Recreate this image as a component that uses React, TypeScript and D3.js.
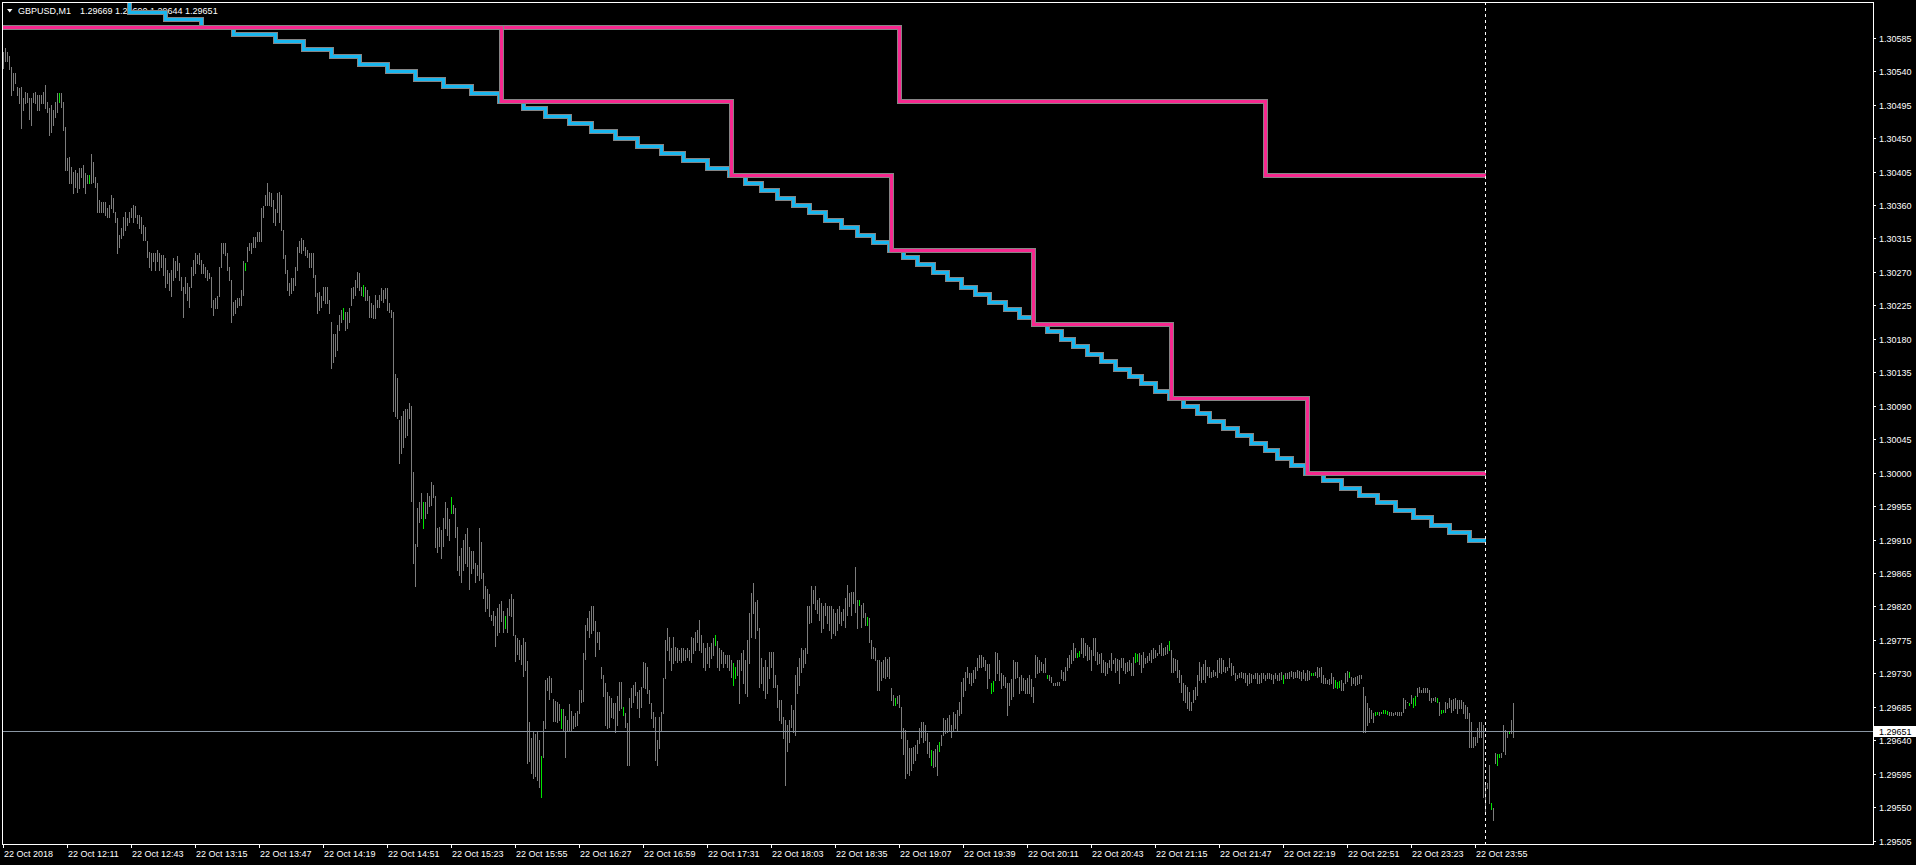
import * as d3 from "d3";
import { useEffect, useRef } from "react";

const W = 1916;
const H = 865;

// prices are stored in points (0.00001) above this base
const PRICE_BASE = 1.29;
const POINT = 0.00001;

// M1 bars [high, low, green?], one per minute, first bar 11:39
const bars1139 = [
  [1566,1544],[1571,1553],[1566,1553],[1561,1543],[1546,1508],[1538,1515],[1538,1524],[1519,1508],[1518,1497],[1519,1464],
  [1504,1488],[1512,1497],[1511,1499],[1504,1475],[1504,1468],[1511,1499],[1512,1497],[1508,1488],[1508,1488],[1508,1497],
  [1512,1497],[1522,1491],[1499,1485],[1491,1454],[1495,1458],[1488,1468],[1499,1479],[1511,1485],[1511,1499,1],[1511,1492],
  [1499,1461],[1465,1407],[1423,1407],[1425,1390],[1411,1390],[1405,1376],[1407,1384],[1403,1378],[1410,1383],[1410,1397],
  [1414,1384],[1403,1376],[1401,1390],[1401,1390,1],[1428,1390],[1418,1391],[1398,1384],[1390,1351],[1367,1351],[1364,1351],
  [1364,1351],[1364,1347],[1356,1344],[1360,1344],[1374,1356],[1370,1351],[1351,1337],[1343,1296],[1320,1304],[1329,1316],
  [1344,1320],[1350,1327],[1343,1333],[1351,1337],[1356,1344],[1360,1337],[1358,1344],[1347,1336],[1347,1329],[1344,1323],
  [1333,1313],[1331,1313],[1311,1290],[1297,1277],[1296,1273],[1296,1284],[1296,1273],[1300,1284],[1296,1273],[1293,1277],
  [1293,1266],[1289,1250],[1273,1255],[1269,1246],[1273,1237],[1289,1259],[1284,1263],[1292,1273],[1282,1259],[1263,1246],
  [1250,1210],[1263,1242],[1255,1232],[1250,1223],[1277,1250],[1286,1266],[1296,1269],[1293,1282],[1296,1280],[1286,1269],
  [1280,1269],[1277,1263],[1273,1259],[1269,1262],[1263,1223],[1232,1212],[1235,1222],[1237,1222],[1277,1237],[1309,1276],
  [1309,1296],[1309,1293],[1296,1273],[1276,1259],[1259,1203],[1230,1212],[1232,1215],[1235,1223],[1235,1226],[1246,1226],
  [1284,1239],[1282,1273,1],[1304,1284],[1309,1300],[1309,1296],[1317,1304],[1317,1304],[1324,1311],[1324,1311],[1356,1311],
  [1358,1344],[1374,1360],[1390,1360],[1378,1360],[1376,1358],[1367,1337],[1354,1333],[1376,1350],[1378,1337],[1374,1327],
  [1327,1289],[1293,1269],[1273,1246],[1255,1239],[1262,1242],[1262,1246],[1277,1253],[1304,1273],[1311,1297],[1316,1296],
  [1313,1300],[1304,1293],[1300,1290],[1296,1277],[1296,1277],[1296,1263],[1266,1237],[1242,1215],[1243,1219],[1237,1223],
  [1250,1232],[1250,1228],[1250,1228],[1232,1215],[1203,1141],[1187,1149],[1187,1157],[1199,1165],[1212,1192],[1219,1203],
  [1222,1206,1],[1216,1192],[1216,1195],[1222,1203],[1249,1226],[1250,1235],[1259,1239],[1270,1250],[1269,1246],[1250,1239],
  [1253,1237,1],[1250,1232],[1246,1232],[1237,1210],[1228,1210],[1226,1208],[1239,1208],[1232,1223],[1239,1223],[1249,1232],
  [1246,1230],[1249,1235],[1249,1219],[1228,1216],[1219,1210],[1216,1083],
];

const bars1455 = [
  [1133,1076],[1127,1073],[1071,1013],[1076,1027],[1083,1034],[1085,1048],[1085,1050],[1094,1073],[1089,962],[1001,879],
  [904,847],[953,902],[960,934],[972,939],[960,925,1],[960,939],[972,946],[969,955],[988,957],[983,967],
  [969,900],[925,893],[927,902],[923,885],[939,902],[960,925],[953,916],[937,909],[967,946,1],[957,946],
  [953,914],[927,869],[888,863],[898,853],[909,869],[918,879],[925,874],[900,844],[895,865],[895,872],
  [879,853],[876,863],[925,856],[907,858],[865,832],[847,814],[844,818],[837,807],[809,802],[814,795],
  [807,767],[818,781],[824,786],[828,800],[814,786],[807,791,1],[818,786],[830,809],[837,807],[830,782],
  [782,747],[777,756],[775,749],[768,742],[777,726],[772,735],[747,610],[664,612],[643,596],[652,590],
  [649,592],[652,587],[641,577],[619,564,1],[666,617],[721,657],[724,708],[726,696],[724,705],[696,666],
  [693,666],[691,664],[689,668],[682,657,1],[682,654],[673,617],[668,654],[689,654],[680,654],[673,657],
  [677,659],[680,661],[708,677],[708,691],[758,693],[795,749],[805,789],[814,779],[821,784],[821,789],
  [800,754],[786,772],[786,763],
];

const bars1638 = [
  [738,724],[728,699],[717,661],[705,657],[699,658],[697,672],[690,670],[690,651],[699,661],[719,681],
  [719,684],[685,674,1],[677,658],[663,607],[697,607],[711,685],[715,692],[719,701],[705,684],[708,672],
  [712,685],[746,712],[744,711],[739,704],[708,690],[690,670],[678,658],[672,614],[641,607],[672,630],
  [678,654],[724,677],[775,724],[791,762],[779,748],[764,735],[779,744],[766,748],[764,746],[762,748],
  [764,746],[764,748],[762,748],[764,752],[762,748],[779,746],[778,758],[786,762],[789,772],[802,762],
  [782,759],[771,738],[764,735],[771,744],[766,739],[771,751],[778,755],[781,768,1],[773,739],[764,735],
  [762,744],[759,739],[755,744],[755,739],[755,735],[748,725],[744,715,1],[739,724,1],[748,728],[748,690],
  [758,735],[762,717],[748,704],[775,699],[811,744],[838,779],[852,811],[826,778],[829,789],[791,712],
  [751,717],[739,708],[748,697],[739,704],[759,724],[759,738],[759,712],[728,712],[715,685],[694,668],
  [694,663],[672,643],[668,580],[661,625],[668,638],[688,658],[681,651],[728,647],[739,704],[751,715],
  [764,732],[762,739],[764,744],[820,758],[820,798],[847,799],[842,825],[847,816],[829,811],[832,802],
  [825,786],[820,791],[825,809],[820,798],[820,789],[820,778],[816,785],[811,782],[816,789],[820,798],
  [813,795],[816,802],[832,793],[849,809],[838,820],[840,809],[840,825],[873,813],[829,791],[829,822,1],
  [822,793],[825,806],[811,795],[806,795,1],[805,772],[775,751],[766,751],[764,748],[748,708],
];

const bars1857 = [
  [748,708],[746,721],[748,725],[752,724],[750,727],[752,724],[711,694],[701,688],[697,688,1],[699,690],
  [701,685],[685,643],[657,621],[654,590],[640,596],[630,594],[630,600],[631,610],[634,614],[641,623],
  [657,637],[664,645],[665,638],[660,640],[650,623],[638,617],[627,607,1],[625,604],[628,606],[634,594],
  [638,625,1],[647,634],[670,647],[668,650],[670,651],[674,654],[661,645],[678,654],[676,657],[681,654],
  [691,674],[719,677],[724,700],[732,708],[739,725],[731,717],[731,715],[734,718],[739,724],[751,735],
  [755,738],[755,739],[752,740],[748,735],[742,711],[742,724],[717,704,1],[720,706,1],[759,721],[758,731],
  [748,721],[731,711],[728,714],[725,712],[717,674],[717,688],[722,695],[748,699],[746,724],[746,725],
  [725,704],[728,708],[724,708],[721,704],[724,704],[728,704],[722,700],[712,692],[755,725],[752,731],
  [748,732],[746,734],[742,732],[751,732],[728,724,1],[728,721],[725,719],[717,715],[717,715],[719,715],
  [718,714],[735,724],[732,721],[738,721],[751,735],[755,738],[762,744],[771,748],[764,752],[758,752,1],
  [760,753,1],[778,758],[778,752],[771,755],[768,748],[765,750],[762,735],[778,755],[778,748],[759,742],
  [756,744],[758,732],[748,732],[746,728],[744,731],[748,738],[758,735],[748,744],[751,732],[749,735],
  [748,717],[751,739],[751,735],[744,731],[746,733],[748,735],[744,728],[752,728],[758,746,1],[756,747,1],
  [758,742],[755,732],[759,738],[751,744],[753,745],[758,748],[762,746],[764,751],[762,752],[758,755],
  [768,758],[771,755],[764,755],[766,756],[768,758],[774,762,1],
];

const bars2123 = [
  [762,732],[751,732],[749,735],[748,725],[735,719],[728,705],[717,694],[715,692],[712,684],[705,681],
  [692,681],[708,691],[712,695],[728,701],[746,721],[738,719],[742,722],[748,719],[739,728],[739,725],
  [732,725],[734,726],[732,728],[748,725],[751,732],[751,731],[748,733],[738,732],[739,735],[751,738],
  [744,728],[740,729],[731,721],[728,724],[731,725],[732,725],[730,724],[731,719],[728,715],[731,717],
  [729,718],[728,724],[731,724],[731,717],[728,717],[730,719],[731,724],[728,721],[731,724],[731,724],
  [729,722],[728,717],[731,724],[728,721],[731,721],[732,723],[728,717,1],[731,724],[731,724],[732,724],
  [733,726],[732,724],[732,725],[735,725],[733,724],[732,721],[735,724],[731,721],[735,721],[733,723],
  [731,728,1],[731,728,1],[732,728],[739,725],[737,727],[738,719],[728,717],[724,717],[721,717],[722,716],
  [731,717],[725,711],[721,712,1],[719,711,1],[720,712,1],[721,708],[717,708],[731,717],[733,720],[732,725,1],
  [725,715],[724,717],[725,715],[727,716],[728,717],[728,724],[712,651],[699,651],[690,660],[684,664],
  [681,670],[677,664],[678,674,1],[678,675,1],[678,674],[678,677],[681,677,1],[681,677,1],[680,676,1],[678,674],
  [678,674],[677,674],[678,675],[678,674],[678,674],[678,674],[697,678],[694,684],[692,691],[690,688,1],
  [701,690],[697,685,1],[699,687,1],[711,699],[712,705],[708,705],[711,705],[710,705],[711,705],[708,694],
  [697,692],[697,694],[698,693],[697,692,1],[692,674],[681,677,1],[681,678,1],[692,678],[690,684],[697,685],
  [694,678],[696,681],[697,684],[694,677],[694,684],[694,684],[692,677],[688,670],[685,670],
];

const bars2352 = [
  [677,631],[665,631],[645,631],[645,634],[657,638],[665,645],[664,645],[661,564],[583,544],[583,576],
  [607,556],[556,547,1],[549,533],[623,610],[621,607,1],[621,617,1],[623,617],[661,625],[654,621],[651,645],
  [651,650,1],[668,650],[690,644],
];

// trailing line: [bar index where the level starts, price]
const cyanSteps: [number, number][] = [
  [0,1.30640],[63,1.30620],[81,1.30610],[99,1.30600],[115,1.30590],[136,1.30580],[150,1.30570],[164,1.30560],
  [178,1.30550],[192,1.30540],[206,1.30530],[220,1.30520],[234,1.30510],[248,1.30500],[260,1.30490],[271,1.30480],
  [283,1.30470],[294,1.30460],[306,1.30450],[317,1.30440],[329,1.30430],[340,1.30420],[352,1.30410],[363,1.30400],
  [371,1.30390],[379,1.30380],[387,1.30370],[395,1.30360],[403,1.30350],[411,1.30340],[419,1.30330],[427,1.30320],
  [435,1.30310],[443,1.30300],[450,1.30290],[457,1.30280],[465,1.30270],[472,1.30260],[479,1.30250],[486,1.30240],
  [493,1.30230],[501,1.30220],[508,1.30210],[515,1.30200],[522,1.30190],[529,1.30180],[535,1.30170],[542,1.30160],
  [549,1.30150],[556,1.30140],[563,1.30130],[569,1.30120],[576,1.30110],[583,1.30100],[590,1.30090],[597,1.30080],
  [603,1.30070],[610,1.30060],[617,1.30050],[624,1.30040],[631,1.30030],[637,1.30020],[644,1.30010],[651,1.30000],
  [660,1.29990],[669,1.29980],[678,1.29970],[687,1.29960],[696,1.29950],[705,1.29940],[714,1.29930],[723,1.29920],
  [733,1.29910],
];

// round-number levels
const pinkFastSteps: [number, number][] = [
  [0,1.306],[249,1.305],[364,1.304],[444,1.303],[515,1.302],[584,1.301],[652,1.300],
];
const pinkSlowSteps: [number, number][] = [
  [0,1.306],[448,1.305],[631,1.304],
];
const LINE_END = 741; // day separator (00:00)

const priceTicks = [
  1.30585, 1.30540, 1.30495, 1.30450, 1.30405, 1.30360, 1.30315, 1.30270, 1.30225,
  1.30180, 1.30135, 1.30090, 1.30045, 1.30000, 1.29955, 1.29910, 1.29865, 1.29820,
  1.29775, 1.29730, 1.29685, 1.29640, 1.29595, 1.29550, 1.29505,
];

const timeLabels = [
  "22 Oct 2018", "22 Oct 12:11", "22 Oct 12:43", "22 Oct 13:15", "22 Oct 13:47", "22 Oct 14:19",
  "22 Oct 14:51", "22 Oct 15:23", "22 Oct 15:55", "22 Oct 16:27", "22 Oct 16:59", "22 Oct 17:31",
  "22 Oct 18:03", "22 Oct 18:35", "22 Oct 19:07", "22 Oct 19:39", "22 Oct 20:11", "22 Oct 20:43",
  "22 Oct 21:15", "22 Oct 21:47", "22 Oct 22:19", "22 Oct 22:51", "22 Oct 23:23", "22 Oct 23:55",
];
const BARS_PER_LABEL = 32;

const lastQuote = { symbol: "GBPUSD,M1", open: "1.29669", high: "1.29690", low: "1.29644", close: "1.29651" };
const BID = 1.29651;

const FONT = "'Liberation Sans', Arial, sans-serif";

export default function App() {
  const svgRef = useRef<SVGSVGElement | null>(null);

  useEffect(() => {
    const svg = d3.select(svgRef.current).html("");

    const left = 2, right = 1873, top = 2, bottom = 844;

    const x = d3.scaleLinear().domain([0, 1]).range([3, 5]);
    const y = d3.scaleLinear().domain([1.29505, 1.30585]).range([840.7, 37.7]);

    const bars = [...bars1139, ...bars1455, ...bars1638, ...bars1857, ...bars2123, ...bars2352].map((b, i) => ({
      i,
      high: PRICE_BASE + b[0] * POINT,
      low: PRICE_BASE + b[1] * POINT,
      green: b[2] === 1,
    }));

    svg.append("rect").attr("width", W).attr("height", H).attr("fill", "#000");

    svg.append("defs").append("clipPath").attr("id", "plot")
      .append("rect").attr("x", left).attr("y", top).attr("width", right - left).attr("height", bottom - top);

    // header
    svg.append("path").attr("d", "M7,9 L12.5,9 L9.75,12.5 Z").attr("fill", "#fff");
    svg.append("text").attr("x", 18).attr("y", 14).attr("fill", "#fff")
      .style("font", `9px ${FONT}`).text(lastQuote.symbol);
    svg.append("text").attr("x", 80).attr("y", 14).attr("fill", "#fff")
      .style("font", `9px ${FONT}`)
      .text(`${lastQuote.open} ${lastQuote.high} ${lastQuote.low} ${lastQuote.close}`);

    const plot = svg.append("g").attr("clip-path", "url(#plot)");

    plot.selectAll("rect.bar").data(bars).join("rect")
      .attr("class", "bar")
      .attr("x", d => x(d.i))
      .attr("y", d => Math.round(y(d.high)))
      .attr("width", 1)
      .attr("height", d => Math.max(1, Math.round(y(d.low)) - Math.round(y(d.high)) + 1))
      .attr("fill", d => (d.green ? "#00e600" : "#7c7c7c"))
      .attr("shape-rendering", "crispEdges");

    // bid line
    const bidY = Math.round(y(BID)) - 0.5;
    plot.append("line").attr("x1", left).attr("x2", right).attr("y1", bidY).attr("y2", bidY)
      .attr("stroke", "#8a96a3").attr("stroke-width", 1).attr("shape-rendering", "crispEdges");

    const stepPath = (steps: [number, number][], end: number) => {
      let p = "";
      steps.forEach(([i, v], k) => {
        const py = Math.round(y(v)) + 0.5;
        p += k === 0 ? `M${left},${py}` : `V${py}`;
        const nextI = k < steps.length - 1 ? steps[k + 1][0] : end;
        p += `H${x(nextI) + 0.5}`;
      });
      return p;
    };

    const drawLine = (steps: [number, number][], color: string) => {
      const d = stepPath(steps, LINE_END);
      plot.append("path").attr("d", d).attr("fill", "none").attr("stroke", "#858585")
        .attr("stroke-width", 5).attr("stroke-linejoin", "miter").attr("shape-rendering", "crispEdges");
      plot.append("path").attr("d", d).attr("fill", "none").attr("stroke", color)
        .attr("stroke-width", 3).attr("stroke-linejoin", "miter").attr("shape-rendering", "crispEdges");
    };
    drawLine(cyanSteps, "#1ab6ee");
    drawLine(pinkSlowSteps, "#f7288f");
    drawLine(pinkFastSteps, "#f7288f");

    // day separator
    const sepX = x(LINE_END) + 0.5;
    plot.append("line").attr("x1", sepX).attr("x2", sepX).attr("y1", top).attr("y2", bottom)
      .attr("stroke", "#fff").attr("stroke-dasharray", "3,3").attr("shape-rendering", "crispEdges");

    // frame
    svg.append("rect").attr("x", left + 0.5).attr("y", top + 0.5)
      .attr("width", right - left).attr("height", bottom - top)
      .attr("fill", "none").attr("stroke", "#fff").attr("shape-rendering", "crispEdges");

    // price axis
    const yAxis = svg.append("g");
    priceTicks.forEach(p => {
      const py = Math.round(y(p)) + 0.5;
      yAxis.append("line").attr("x1", right).attr("x2", right + 3).attr("y1", py).attr("y2", py)
        .attr("stroke", "#fff").attr("shape-rendering", "crispEdges");
      yAxis.append("text").attr("x", 1879).attr("y", py + 3.5).attr("fill", "#fff")
        .style("font", `9px ${FONT}`).text(p.toFixed(5));
    });
    const bidBoxY = Math.round(y(BID)) - 6;
    yAxis.append("rect").attr("x", 1874).attr("y", bidBoxY).attr("width", 42).attr("height", 11)
      .attr("fill", "#fff");
    yAxis.append("text").attr("x", 1879).attr("y", bidBoxY + 9).attr("fill", "#000")
      .style("font", `9px ${FONT}`).text(BID.toFixed(5));

    // time axis
    const xAxis = svg.append("g");
    timeLabels.forEach((t, k) => {
      const px = x(k * BARS_PER_LABEL) + 0.5;
      xAxis.append("line").attr("x1", px).attr("x2", px).attr("y1", bottom).attr("y2", bottom + 4)
        .attr("stroke", "#fff").attr("shape-rendering", "crispEdges");
      xAxis.append("text").attr("x", px + 0.5).attr("y", 857).attr("fill", "#fff")
        .style("font", `9px ${FONT}`).text(t);
    });
  }, []);

  return (
    <div style={{ position: "fixed", left: 0, top: 0, width: W, height: H, background: "#000" }}>
      <svg ref={svgRef} width={W} height={H} style={{ display: "block" }} />
    </div>
  );
}
